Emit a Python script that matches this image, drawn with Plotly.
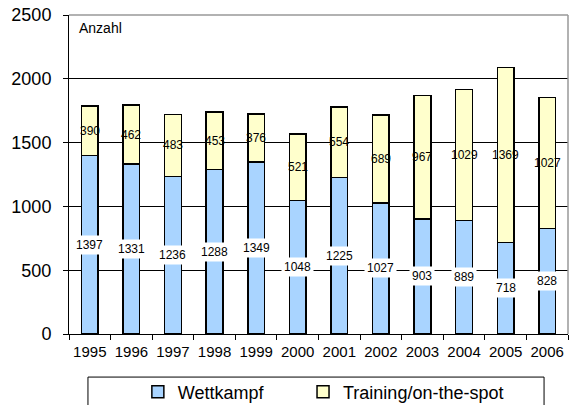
import plotly.graph_objects as go

years = ["1995", "1996", "1997", "1998", "1999", "2000", "2001", "2002", "2003", "2004", "2005", "2006"]
wettkampf = [1397, 1331, 1236, 1288, 1349, 1048, 1225, 1027, 903, 889, 718, 828]
training = [390, 462, 483, 453, 376, 521, 554, 689, 967, 1029, 1369, 1027]

FONT = "Arial, 'Liberation Sans', sans-serif"
BLUE = "#A9D4FF"
YELLOW = "#FFFFCC"

fig = go.Figure()
fig.add_trace(go.Bar(x=years, y=wettkampf, name="Wettkampf", legend="legend",
                     marker=dict(color=BLUE, line=dict(color="black", width=1.5))))
fig.add_trace(go.Bar(x=years, y=training, name="Training/on-the-spot", legend="legend2",
                     marker=dict(color=YELLOW, line=dict(color="black", width=1.5))))

annotations = []
for i, (w, t) in enumerate(zip(wettkampf, training)):
    annotations.append(dict(x=i, y=w / 2, text=str(w), showarrow=False,
                            font=dict(family=FONT, size=12, color="black"),
                            bgcolor="white", borderpad=2))
    annotations.append(dict(x=i, y=w + t / 2, text=str(t), showarrow=False,
                            font=dict(family=FONT, size=12, color="black")))
annotations.append(dict(xref="paper", yref="paper", x=0.016, y=0.96, text="Anzahl",
                        showarrow=False, xanchor="left", yanchor="middle",
                        font=dict(family=FONT, size=14, color="black")))

legend_style = dict(orientation="h", y=-0.182, xanchor="left", yanchor="middle",
                    font=dict(family=FONT, size=18, color="black"),
                    bgcolor="rgba(0,0,0,0)")

fig.update_layout(
    width=569, height=405,
    margin=dict(l=69, r=1, t=15, b=71, autoexpand=False),
    paper_bgcolor="white", plot_bgcolor="white",
    barmode="stack", bargap=0.6,
    font=dict(family=FONT, color="black"),
    annotations=annotations,
    showlegend=True,
    legend=dict(x=0.138, **legend_style),
    legend2=dict(x=0.469, **legend_style),
    shapes=[
        dict(type="line", xref="paper", yref="paper", x0=0, x1=1, y0=1, y1=1,
             line=dict(color="#999999", width=1.5), layer="above"),
        dict(type="line", xref="paper", yref="paper", x0=1, x1=1, y0=0, y1=1,
             line=dict(color="#999999", width=1.5), layer="above"),
        dict(type="rect", xref="paper", yref="paper", x0=0.038, x1=0.952, y0=-0.135, y1=-0.3,
             line=dict(color="black", width=1), fillcolor="rgba(0,0,0,0)", layer="above"),
    ],
)
fig.update_xaxes(type="category", range=[-0.5, len(years) - 0.5], showline=True,
                 linecolor="black", linewidth=1, tickangle=0,
                 ticks="outside", tickson="boundaries", ticklen=5, tickcolor="black",
                 ticklabelstandoff=4, ticklabeloverflow="allow",
                 tickfont=dict(family=FONT, size=15, color="black"), showgrid=False)
fig.update_yaxes(range=[0, 2500], dtick=500, showline=True, linecolor="black", linewidth=1,
                 ticks="outside", ticklen=5, tickcolor="black", showgrid=True,
                 ticklabelstandoff=8, ticklabeloverflow="allow",
                 gridcolor="black", gridwidth=1, zeroline=False,
                 tickfont=dict(family=FONT, size=18, color="black"))

fig.write_html("out.html", config={"displayModeBar": False},
               post_script="document.body.style.margin='0';document.body.style.overflow='hidden';")
